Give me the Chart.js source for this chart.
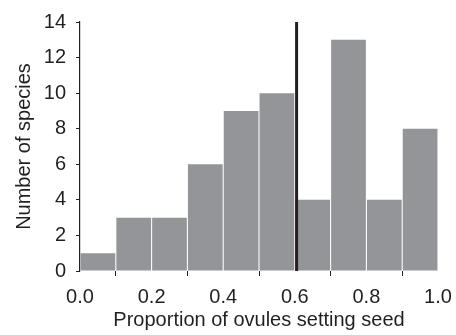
<!DOCTYPE html>
<html>
<head>
<meta charset="utf-8">
<script src="https://cdn.jsdelivr.net/npm/chart.js@4/dist/chart.umd.min.js"></script>
<style>
  html, body { margin: 0; padding: 0; background: #fff; }
  #wrap { width: 456px; height: 335px; }
</style>
</head>
<body>
<div id="wrap"><canvas id="chart"></canvas></div>
<script>
// ========== DATA ==========
const binCenters = [0.05, 0.15, 0.25, 0.35, 0.45, 0.55, 0.65, 0.75, 0.85, 0.95];
const speciesCounts = [1, 3, 3, 6, 9, 10, 4, 13, 4, 8];
const markerX = 0.605;
const markerRange = [0, 14.1];
const yTicks = [0, 2, 4, 6, 8, 10, 12, 14];
const xTicks = [0.0, 0.2, 0.4, 0.6, 0.8, 1.0];

const textColor = '#231f20';
const font = { family: 'Liberation Sans, Arial, sans-serif', size: 20 };

// ========== CHART ==========
new Chart(document.getElementById('chart').getContext('2d'), {
    type: 'bar',
    data: {
        datasets: [{
            type: 'line',
            data: markerRange.map(y => ({ x: markerX, y: y })),
            borderColor: '#231f20',
            borderWidth: 3,
            pointRadius: 0,
            order: 0
        }, {
            data: binCenters.map((x, i) => ({ x: x, y: speciesCounts[i] })),
            backgroundColor: '#939598',
            barPercentage: 0.97,
            categoryPercentage: 1,
            order: 1
        }]
    },
    options: {
        responsive: true,
        maintainAspectRatio: false,
        animation: false,
        layout: { padding: { top: 20, right: 18, left: 0, bottom: 0 } },
        plugins: { legend: { display: false }, tooltip: { enabled: false } },
        scales: {
            x: {
                type: 'linear',
                offset: false,
                min: 0, max: 1,
                afterBuildTicks: axis => { axis.ticks = xTicks.map(v => ({ value: v })); },
                afterFit: axis => {
                    axis.height = 64;
                    axis.paddingLeft = 0;
                    axis.paddingRight = 0;
                },
                ticks: {
                    color: textColor, font: font, padding: 9,
                    callback: v => v.toFixed(1)
                },
                grid: { drawOnChartArea: false, drawTicks: true, tickLength: 5, color: textColor },
                border: { display: false },
                title: {
                    display: true, text: 'Proportion of ovules setting seed',
                    color: textColor, font: font, padding: { top: 1, bottom: 3 }
                }
            },
            y: {
                min: 0, max: 14,
                afterBuildTicks: axis => { axis.ticks = yTicks.map(v => ({ value: v })); },
                afterFit: axis => { axis.width = 80; },
                ticks: { color: textColor, font: font, padding: 10 },
                grid: { drawOnChartArea: false, drawTicks: true, tickLength: 4, color: textColor },
                border: { display: true, color: textColor, width: 1.2 },
                title: {
                    display: true, text: 'Number of species',
                    color: textColor, font: font, padding: { top: 12, bottom: 0 }
                }
            }
        }
    }
});
</script>
</body>
</html>
